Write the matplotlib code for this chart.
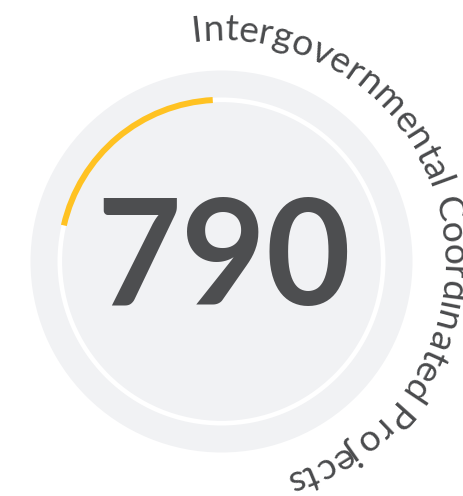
import numpy as np
import matplotlib
matplotlib.use("Agg")
import matplotlib.pyplot as plt
from matplotlib import font_manager
from matplotlib.ft2font import LOAD_NO_HINTING, KERNING_DEFAULT

# Gauge content
value = 790
label = "Intergovernmental Coordinated Projects"
progress_start_deg = 282.9   # clockwise from north
progress_end_deg = 356.9

# Colours
DISC = "#f1f2f4"
TRACK = "#ffffff"
PROGRESS = "#ffc222"
NUMBER = "#4d4e50"
LABEL = "#4a4b4d"

W, H, DPI = 464, 496, 100
fig = plt.figure(figsize=(W / DPI, H / DPI), dpi=DPI)
fig.patch.set_facecolor("white")

# Polar axes whose radial unit equals one pixel
cx, cy = 221.5, 261.5
R = 250
ax = fig.add_axes([(cx - R) / W, (H - cy - R) / H, 2 * R / W, 2 * R / H],
                  projection="polar")
ax.set_theta_zero_location("N")
ax.set_theta_direction(-1)
ax.set_ylim(0, R)
ax.axis("off")

disc_r = 191
track_r = 161.7
ax.bar(np.pi, disc_r, width=2 * np.pi, bottom=0, color=DISC, linewidth=0)
ax.bar(np.pi, 4.6, width=2 * np.pi, bottom=track_r - 2.3, color=TRACK, linewidth=0)
ax.bar(np.deg2rad((progress_start_deg + progress_end_deg) / 2), 6,
       width=np.deg2rad(progress_end_deg - progress_start_deg),
       bottom=track_r - 3, color=PROGRESS, linewidth=0)

# Central value
fig.text(224 / W, 1 - 305 / H, f"{value}", ha="center", va="baseline",
         family="Lato", fontweight="bold", fontsize=105.5, color=NUMBER)

# Label set along a circle, reading clockwise
label_size = 26.8
label_r = 221
label_start_deg = -(97.5 - 90)  # left edge of the first glyph, clockwise from north
fp = font_manager.FontProperties(family="Lato", size=label_size)
font = font_manager.get_font(font_manager.findfont(fp))
font.set_size(label_size, DPI)

pos = 0.0
prev = None
for ch in label:
    idx = font.get_char_index(ord(ch))
    if prev is not None:
        pos += font.get_kerning(prev, idx, KERNING_DEFAULT) / 64.0
    glyph = font.load_char(ord(ch), flags=LOAD_NO_HINTING)
    adv = glyph.linearHoriAdvance / 65536.0
    mid = pos + adv / 2
    phi = np.deg2rad(label_start_deg) + mid / label_r
    if ch != " ":
        ax.text(phi, label_r, ch, rotation=-np.rad2deg(phi), rotation_mode="anchor",
                ha="center", va="baseline", family="Lato", fontsize=label_size,
                color=LABEL)
    pos += adv
    prev = idx

fig.savefig("out.png", dpi=DPI, facecolor="white")
